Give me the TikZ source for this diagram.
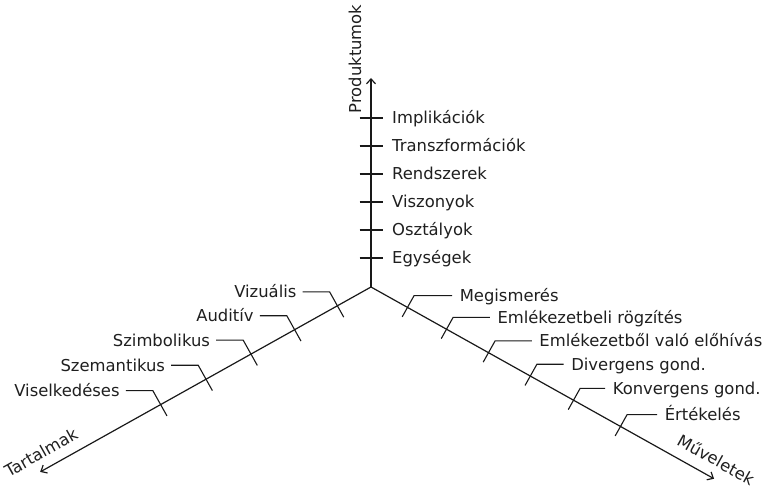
\documentclass[tikz,border=0pt]{standalone}
\usepackage{fontspec}
\setmainfont{DejaVu Sans}
\usetikzlibrary{arrows.meta,calc}
\begin{document}
\begin{tikzpicture}[x=1pt,y=-1pt,
  axis/.style={line width=1.2pt, draw=black!90, -{Straight Barb[length=5pt,width=9pt]}},
  tickline/.style={line width=1.1pt, draw=black!90},
  lbl/.style={inner sep=0pt, font=\fontsize{16.4}{19}\selectfont, text=black!88}]
\useasboundingbox (0,0) rectangle (766,489);
% axes meeting at the common origin
\coordinate (O) at (371,287);
\coordinate (T) at (371,78);
\coordinate (L) at ($(O)+(-0.8729*379,0.4879*379)$);
\coordinate (R) at ($(O)+(0.8729*393,0.4879*393)$);
\draw[axis] (O) -- (T);
\draw[axis] (O) -- (L);
\draw[axis] (O) -- (R);
% axis titles
\node[lbl, rotate=90, anchor=base] (prod) at (361,59) {Produktumok};
\node[lbl, rotate=29.2, anchor=base] (tart) at (44,458) {Tartalmak};
\node[lbl, rotate=-29.2, anchor=base] (muv) at (713,465) {Műveletek};
% vertical axis: products
\foreach \y/\t [count=\i] in {258/Egységek,230/Osztályok,202/Viszonyok,174/Rendszerek,146/Transzformációk,118/Implikációk} {
  \coordinate (pa\i) at (359.5,\y);
  \coordinate (pb\i) at (382.5,\y);
  \draw[tickline] (pa\i) -- (pb\i);
  \node[lbl, anchor=base west] (p\i) at (392,\y+6) {\t};
}
% left axis: contents
\foreach \d/\t [count=\i] in {38.5/Vizuális,87.5/Auditív,137.5/Szimbolikus,189/Szemantikus,241/Viselkedéses} {
  \coordinate (lc\i) at ($(O)+(-0.8729*\d,0.4879*\d)$);
  \coordinate (lu\i) at ($(lc\i)+(-7.81,-13.97)$);
  \coordinate (ll\i) at ($(lc\i)+(6.34,11.35)$);
  \coordinate (lh\i) at ($(lu\i)+(-27,0)$);
  \node[lbl, anchor=base east] (l\i) at ($(lh\i)+(-6,6)$) {\t};
  \draw[tickline] (ll\i) -- (lu\i) -- (lh\i);
}
% right axis: operations
\foreach \d/\len/\t [count=\i] in {41.8/38/Megismerés,86.5/36.7/Emlékezetbeli rögzítés,134.6/36.7/Emlékezetből való előhívás,182.5/26.7/Divergens gond.,232/25/Konvergens gond.,285.8/30/Értékelés} {
  \coordinate (rc\i) at ($(O)+(0.8729*\d,0.4879*\d)$);
  \coordinate (ru\i) at ($(rc\i)+(6.59,-11.78)$);
  \coordinate (rl\i) at ($(rc\i)+(-5.27,9.43)$);
  \coordinate (rh\i) at ($(ru\i)+(\len,0)$);
  \node[lbl, anchor=base west] (r\i) at ($(rh\i)+(7.5,6)$) {\t};
  \draw[tickline] (rl\i) -- (ru\i) -- (rh\i);
}
\end{tikzpicture}
\end{document}
